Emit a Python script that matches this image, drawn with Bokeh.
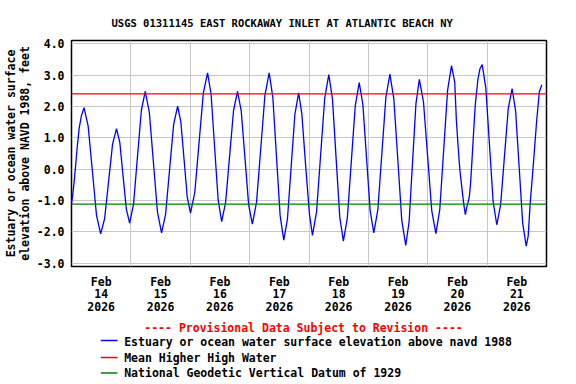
from bokeh.plotting import figure
from bokeh.models import Range1d, FixedTicker, Span
from bokeh.layouts import column
from bokeh.embed import file_html
from bokeh.resources import INLINE
from bokeh.core.properties import value

# ---------------- data ----------------
title_text = "USGS 01311145 EAST ROCKAWAY INLET AT ATLANTIC BEACH NY"
y_label = "Estuary or ocean water surface\nelevation above NAVD 1988, feet"
provisional = "---- Provisional Data Subject to Revision ----"

# hours since 2026-02-14 00:00
hours = [0.0, 0.4, 1.0, 1.6, 2.3, 3.1, 4.0, 5.05, 6.74, 8.43, 10.11, 11.8,
         13.4, 15.0, 16.6, 18.2, 19.53, 20.85, 22.18, 23.5, 25.08, 26.65, 28.23,
         29.8, 31.45, 33.1, 34.75, 36.4, 38.03, 39.65, 41.28, 42.9, 44.2, 45.5,
         46.8, 48.1, 49.83, 51.55, 53.28, 55.0, 56.43, 57.85, 59.28, 60.7, 62.3,
         63.9, 65.5, 67.1, 68.6, 70.1, 71.6, 73.1, 74.8, 76.5, 78.2, 79.9, 81.38,
         82.85, 84.33, 85.8, 87.3, 88.8, 90.3, 91.8, 93.1, 94.6, 96.2, 97.4,
         99.05, 100.7, 102.35, 104.0, 105.48, 106.95, 108.43, 109.9, 111.5, 113.1,
         114.7, 116.3, 117.78, 119.25, 120.73, 122.2, 123.83, 125.45, 127.08,
         128.7, 130.3, 131.9, 133.5, 135.1, 136.48, 137.85, 139.23, 140.6, 142.28,
         143.95, 145.63, 147.3, 148.88, 150.45, 152.03, 153.6, 154.9, 155.6,
         156.3, 157.0, 157.6, 158.2, 158.7, 159.2, 159.7, 160.2, 160.8, 161.3,
         161.8, 162.4, 163.2, 164.3, 165.1, 166.0, 167.48, 168.95, 170.43, 171.9,
         173.45, 175.0, 176.55, 178.1, 179.53, 180.95, 182.38, 183.8, 184.6,
         185.4, 186.7, 188.0, 189.1, 190.1]
elev = [-1.10, -0.88, -0.45, 0.06, 0.69, 1.31, 1.70, 1.96, 1.37, -0.05, -1.47, -2.06,
        -1.57, -0.39, 0.80, 1.29, 0.85, -0.22, -1.28, -1.72, -1.11, 0.38, 1.87,
        2.48, 1.82, 0.23, -1.37, -2.03, -1.44, -0.01, 1.42, 2.01, 1.51, 0.31,
        -0.90, -1.40, -0.75, 0.84, 2.42, 3.07, 2.38, 0.70, -0.98, -1.67, -1.06,
        0.41, 1.87, 2.48, 1.86, 0.37, -1.13, -1.75, -1.05, 0.66, 2.37, 3.07, 2.29,
        0.41, -1.48, -2.26, -1.58, 0.09, 1.75, 2.43, 1.77, 0.16, -1.45, -2.11,
        -1.36, 0.45, 2.26, 3.01, 2.24, 0.36, -1.52, -2.29, -1.55, 0.24,
        2.02, 2.76, 2.06, 0.37, -1.33, -2.03, -1.29, 0.50, 2.29,
        3.03, 2.23, 0.30, -1.63, -2.43, -1.66, 0.22, 2.09, 2.86, 2.14,
        0.41, -1.33, -2.05, -1.27, 0.63, 2.52, 3.30, 2.78, 1.52,
        0.69, -0.04, -0.46, -0.88, -1.19, -1.45, -1.24, -1.09, -0.88, -0.46,
        0.17, 1.00, 2.05, 2.88, 3.20, 3.33, 2.59, 0.78, -1.03, -1.77,
        -1.14, 0.40, 1.94, 2.57, 1.84, 0.06, -1.72, -2.45, -2.13,
        -1.09, 0.17, 1.52, 2.46, 2.69]

mhhw = 2.40
ngvd29 = -1.11

day_ticks = [12, 36, 60, 84, 108, 132, 156, 180]
day_labels = ["Feb\n14\n2026", "Feb\n15\n2026", "Feb\n16\n2026", "Feb\n17\n2026",
              "Feb\n18\n2026", "Feb\n19\n2026", "Feb\n20\n2026", "Feb\n21\n2026"]
day_bounds = [24, 48, 72, 96, 120, 144, 168]
y_ticks = [-3, -2, -1, 0, 1, 2, 3, 4]
y_tick_labels = ["-3.0", "-2.0", "-1.0", "0.0", "1.0", "2.0", "3.0", "4.0"]

legend_labels = ["Estuary or ocean water surface elevation above navd 1988",
                 "Mean Higher High Water",
                 "National Geodetic Vertical Datum of 1929"]
legend_colors = ["#0000ff", "#ff0000", "#008000"]

FONT = "DejaVu Sans Mono"
FS = "11.5px"

# ---------------- main chart ----------------
p = figure(width=560, height=316, x_range=Range1d(0, 192), y_range=Range1d(-3.1, 4.1),
           output_backend="svg", toolbar_location=None,
           min_border_left=63, min_border_right=14, min_border_top=40, min_border_bottom=48)
p.frame_align = False
p.background_fill_color = "white"
p.border_fill_color = "white"
p.outline_line_color = "black"
p.outline_line_width = 1.5

p.title.text = title_text
p.title.text_font = FONT
p.title.text_font_size = "10.5px"
p.title.text_font_style = "bold"
p.title.text_color = "black"
p.title.align = "left"
p.title.offset = 40
p.title.standoff = 24

p.xaxis.ticker = FixedTicker(ticks=day_ticks)
p.xaxis.major_label_overrides = dict(zip(day_ticks, day_labels))
p.yaxis.ticker = FixedTicker(ticks=y_ticks)
p.yaxis.major_label_overrides = dict(zip(y_ticks, y_tick_labels))
for ax in (p.xaxis, p.yaxis):
    ax.axis_line_color = None
    ax.major_tick_line_color = None
    ax.minor_tick_line_color = None
    ax.major_tick_out = 0
    ax.major_tick_in = 0
    ax.major_label_text_font = FONT
    ax.major_label_text_font_size = FS
    ax.major_label_text_font_style = "bold"
    ax.major_label_text_color = "black"
p.xaxis.major_label_text_line_height = 0.9
p.xaxis.major_label_standoff = 8
p.yaxis.major_label_standoff = 7
p.yaxis.axis_label = y_label
p.yaxis.axis_label_text_font = FONT
p.yaxis.axis_label_text_font_size = FS
p.yaxis.axis_label_text_font_style = "bold"
p.yaxis.axis_label_text_color = "black"
p.yaxis.axis_label_text_line_height = 0.99
p.yaxis.axis_label_standoff = 2

p.xgrid.ticker = FixedTicker(ticks=day_bounds)
p.grid.grid_line_color = "#c8c8c8"
p.grid.grid_line_width = 1

p.line(hours, elev, line_color="#0000ff", line_width=1.3)
p.add_layout(Span(location=mhhw, dimension="width", line_color="#ff0000", line_width=1.2))
p.add_layout(Span(location=ngvd29, dimension="width", line_color="#008000", line_width=1.2))

# ---------------- legend area ----------------
q = figure(width=560, height=68, x_range=Range1d(0, 560), y_range=Range1d(68, 0),
           output_backend="svg", toolbar_location=None,
           x_axis_location=None, y_axis_location=None, min_border=0)
q.frame_align = False
q.grid.visible = False
q.outline_line_color = None
q.text(x=[303], y=[11.3], text=[provisional], text_align="center", text_baseline="middle",
       text_color="#ff0000", text_font=value(FONT), text_font_size=FS, text_font_style="bold")
row_y = [24.0, 41.0, 56.5]
for ry, col in zip(row_y, legend_colors):
    q.segment(x0=[100.3], y0=[ry], x1=[117.0], y1=[ry], line_color=col, line_width=1.3)
q.text(x=[123.7] * 3, y=[25.0, 41.0, 56.7], text=legend_labels, text_align="left",
       text_baseline="middle", text_color="black", text_font=value(FONT),
       text_font_size=FS, text_font_style="bold")

layout = column(p, q, spacing=0)
open("out.html", "w").write(file_html(layout, INLINE))
